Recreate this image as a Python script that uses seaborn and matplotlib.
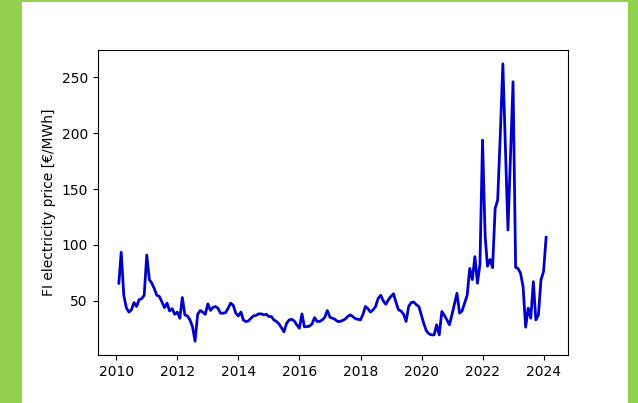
import matplotlib
matplotlib.use("Agg")
import matplotlib.pyplot as plt
import matplotlib.dates as mdates
from matplotlib.patches import Rectangle
import numpy as np
import pandas as pd
import seaborn as sns

# Monthly average spot price, Finland price area (EUR/MWh), Jan 2010 - Jan 2024
start_month = "2010-01-31"
price_2010 = [65.8, 93.5, 55, 44, 40, 42, 48.5, 45, 51, 52, 55, 91]
price_2011 = [69, 66, 61, 55, 54, 49, 44, 48, 41, 43, 38, 40]
price_2012 = [34.5, 53, 37.5, 36.6, 33, 27, 14, 38, 41.4, 40, 38, 47.3]
price_2013 = [41.5, 44, 45, 43.5, 39, 39, 39.5, 43.5, 48, 46, 39, 36.5]
price_2014 = [40, 33, 31.5, 32, 34.5, 36.6, 37, 38.4, 38.4, 37.5, 38, 36]
price_2015 = [36, 33, 31.6, 29.5, 26, 22.3, 30, 33, 33.5, 32, 28.6, 25.6]
price_2016 = [38.4, 26.8, 27, 27.4, 29.5, 35, 31.6, 31.6, 33, 35.4, 41.4, 35.4]
price_2017 = [34.5, 33.6, 31.6, 31.6, 32.5, 33.6, 36, 37.5, 36, 34, 33.6, 33]
price_2018 = [38, 45, 43, 40, 42, 45, 52.3, 55, 50, 47, 51, 54]
price_2019 = [56.3, 49, 42, 41, 38, 31.6, 45, 48.5, 49, 46.5, 45, 37]
price_2020 = [29, 23, 20.5, 19.6, 19.6, 28.6, 19.6, 40.5, 37, 33, 28.6, 38]
price_2021 = [48, 56.8, 39, 41, 48, 55, 79, 69, 89.6, 65.8, 83, 193.8]
price_2022 = [108, 81, 87, 79.7, 132.8, 140, 198, 262, 188, 113.4, 178, 246]
price_2023 = [80, 79, 74.7, 62.8, 26.5, 43.5, 34.5, 67.2, 33, 37.5, 68.8, 76.2]
price_2024 = [106.9]

prices = (price_2010 + price_2011 + price_2012 + price_2013 + price_2014
          + price_2015 + price_2016 + price_2017 + price_2018 + price_2019
          + price_2020 + price_2021 + price_2022 + price_2023 + price_2024)
dates = pd.date_range(start_month, periods=len(prices), freq="ME")
df = pd.DataFrame({"date": dates, "price": prices})

W, H = 638, 403
fig = plt.figure(figsize=(W / 100, H / 100), dpi=100, facecolor="#92D050")
# white page area inside the green frame
fig.patches.append(Rectangle((22 / W, 0), (628 - 22) / W, (H - 2.4) / H,
                             transform=fig.transFigure, facecolor="white",
                             edgecolor="none", zorder=-1))

ax = fig.add_axes([97.5 / W, (H - 355) / H, 470 / W, 305 / H])
sns.lineplot(data=df, x="date", y="price", ax=ax, color="mediumblue",
             linewidth=2)

ax.xaxis.set_major_locator(mdates.YearLocator(2))
ax.xaxis.set_major_formatter(mdates.DateFormatter("%Y"))
ax.set_xlabel("")
ax.set_ylabel("FI electricity price [€/MWh]")

fig.savefig("out.png", dpi=100, facecolor=fig.get_facecolor())
